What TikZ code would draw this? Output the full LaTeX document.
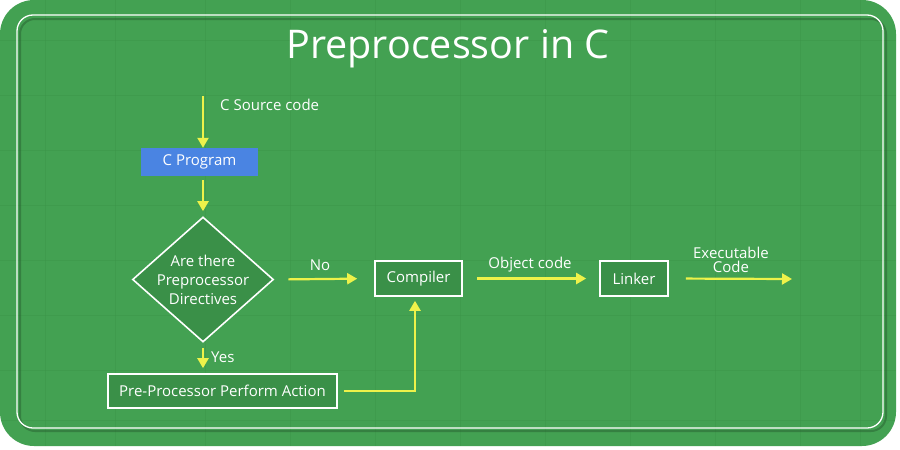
\documentclass[tikz,border=0pt]{standalone}
\usepackage{fontspec}
\setmainfont{Open Sans}
\usetikzlibrary{shapes.geometric,arrows.meta}
\definecolor{bggreen}{HTML}{43A152}
\definecolor{gridgreen}{HTML}{3B9449}
\definecolor{boxgreen}{HTML}{3A9048}
\definecolor{arrowyellow}{HTML}{EEF24A}
\definecolor{progblue}{HTML}{4A84E2}
\tikzset{
  lbl/.style={text=white,font=\fontsize{15}{16}\selectfont,inner sep=0pt},
  flowbox/.style={draw=white,line width=1.6pt,fill=boxgreen,text=white,font=\fontsize{15}{16}\selectfont,inner sep=0pt},
  yarrow/.style={draw=arrowyellow,line width=2.2pt,-{Triangle[length=10pt,width=11pt]}},
  yline/.style={draw=arrowyellow,line width=2.2pt}
}
\begin{document}
\begin{tikzpicture}[x=1pt,y=-1pt]
\useasboundingbox (0,0) rectangle (900,450);
\fill[white] (0,0) rectangle (900,450);
% background panel
\fill[bggreen,rounded corners=34pt] (0,0) rectangle (896,446);
\begin{scope}
\clip[rounded corners=34pt] (0,0) rectangle (896,446);
\foreach \x in {45,115,205,290,375,460,545,630,715,800,860}
  \draw[gridgreen,line width=0.6pt,opacity=0.45] (\x,0) -- (\x,446);
\foreach \y in {40,95,150,205,260,315,370,420}
  \draw[gridgreen,line width=0.6pt,opacity=0.45] (0,\y) -- (896,\y);
\end{scope}
% inner border
\draw[black!40!bggreen,line width=2pt,opacity=0.5,rounded corners=15pt] (20,19) rectangle (886,431);
\draw[white,line width=1.3pt,rounded corners=16pt] (17,15) rectangle (883,428);
% title
\node[text=white,font=\fontsize{39.5}{42}\selectfont,inner sep=0pt] (title) at (448,49) {Preprocessor in C};
% nodes
\coordinate (src) at (203,96);
\node[fill=progblue,text=white,font=\fontsize{15}{16}\selectfont,minimum width=117pt,minimum height=28pt,inner sep=0pt] (prog) at (199.5,162) {C Program};
\node[diamond,draw=white,line width=1.6pt,fill=boxgreen,minimum width=141pt,minimum height=125pt,inner sep=0pt] (dec) at (203,279.5) {};
\node[text=white,font=\fontsize{15}{19}\selectfont,align=center,inner sep=0pt] (dectext) at (dec.center) {Are there\\Preprocessor\\Directives};
\node[flowbox,minimum width=87pt,minimum height=35pt] (comp) at (418.5,278.5) {Compiler};
\node[flowbox,minimum width=68pt,minimum height=35pt] (link) at (634,278.5) {Linker};
\node[flowbox,minimum width=229pt,minimum height=34pt] (pre) at (222.5,391) {Pre-Processor Perform Action};
\coordinate (exe) at (792,279);
\coordinate (corner) at (415,391);
% connectors
\draw[yarrow] (src) -- (prog.north -| src) ;
\draw[yarrow,shorten <=4pt,shorten >=5pt] (prog.south -| dec.north) -- (dec.north);
\draw[yarrow,shorten <=14pt,shorten >=17pt] (dec.east) -- (comp.west);
\draw[yarrow,shorten <=14pt,shorten >=13pt] (comp.east) -- (link.west);
\draw[yarrow,shorten <=17pt] (link.east) -- (exe);
\draw[yarrow,shorten <=5pt,shorten >=5pt] (dec.south) -- (pre.north -| dec.south);
\draw[yarrow,shorten <=6pt,shorten >=4pt] (pre.east) -- (corner) -- (comp.south -| corner);
% labels
\node[lbl,anchor=west] (srclbl) at (220,105) {C Source code};
\node[lbl] (nolbl) at (320,265) {No};
\node[lbl] (objlbl) at (530,265) {Object code};
\node[lbl,align=center,font=\fontsize{15}{14.5}\selectfont] (exelbl) at (731,260) {Executable\\Code};
\node[lbl,anchor=west] (yeslbl) at (211,357) {Yes};
\end{tikzpicture}
\end{document}
